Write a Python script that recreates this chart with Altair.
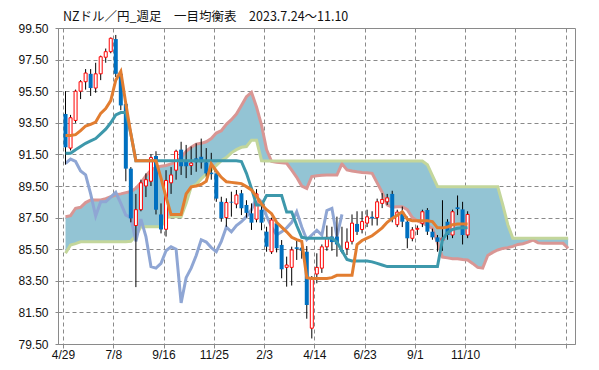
import altair as alt
import pandas as pd

TITLE = "NZドル／円_週足　一目均衡表　2023.7.24～11.10"
X_LABELS = ["4/29", "7/8", "9/16", "11/25", "2/3", "4/14", "6/23", "9/1", "11/10", "", ""]
Y_TICKS = [79.5 + 2 * k for k in range(11)]

# weekly candles (open, high, low, close), index 0..80
OPEN = [94.06, 91.9, 93.65, 95.5, 96.1, 96.6, 95.7, 96.6, 97.65, 98.0,
        98.8, 96.6, 94.7, 90.6, 87.0, 88.0, 89.5, 89.8, 91.4, 87.7,
        86.76, 89.7, 90.5, 91.8, 91.1, 90.8, 91.25, 91.35, 91.0, 90.35,
        90.3, 88.5, 87.5, 88.5, 88.36, 89.04, 88.3, 87.77, 87.4, 88.0,
        86.61, 85.34, 87.14, 85.77, 84.35, 84.35, 85.62, 85.6, 85.34, 80.5,
        83.93, 84.3, 85.65, 86.3, 86.3, 85.45, 85.55, 86.0, 87.1, 86.75,
        87.15, 87.55, 87.5, 88.4, 88.5, 89.0, 87.05, 87.87, 87.24, 86.19,
        86.76, 87.14, 87.98, 86.61, 86.25, 86.05, 87.24, 86.4, 88.15, 88.02,
        86.4]
HIGH = [95.5, 94.0, 95.6, 96.2, 96.9, 96.9, 97.3, 97.75, 98.2, 98.9,
        99.06, 96.7, 94.8, 90.7, 89.0, 89.9, 90.3, 91.5, 91.7, 88.4,
        90.5, 90.7, 91.8, 92.3, 92.1, 92.0, 92.2, 92.5, 91.9, 91.6,
        90.5, 88.82, 88.72, 89.14, 89.25, 89.25, 88.6, 88.4, 89.3, 88.3,
        86.92, 87.5, 87.3, 86.08, 85.03, 85.66, 86.08, 86.0, 85.7, 83.8,
        85.24, 85.8, 87.0, 86.92, 87.56, 86.92, 86.82, 87.7, 87.9, 87.9,
        88.0, 87.9, 88.7, 89.05, 89.0, 89.2, 88.0, 88.2, 87.56, 86.9,
        87.0, 88.0, 88.1, 86.8, 86.4, 88.6, 87.4, 88.0, 88.9, 88.5,
        87.9]
LOW = [90.85, 91.75, 93.5, 95.0, 95.6, 95.2, 95.4, 96.2, 97.3, 97.9,
       96.4, 94.3, 89.8, 87.2, 83.1, 87.9, 88.8, 89.5, 87.7, 86.5,
       86.3, 89.0, 89.9, 90.2, 90.0, 90.2, 90.4, 90.6, 90.1, 89.9,
       88.5, 87.24, 86.92, 87.56, 88.09, 87.66, 87.5, 86.72, 87.2, 86.7,
       85.34, 85.2, 85.3, 83.66, 83.13, 83.2, 84.82, 84.9, 81.1, 79.85,
       83.34, 84.0, 85.4, 85.4, 85.03, 85.24, 85.13, 85.8, 86.4, 86.5,
       86.9, 87.0, 87.0, 88.1, 88.3, 87.2, 86.9, 86.9, 85.56, 86.0,
       86.4, 86.9, 86.4, 86.1, 85.34, 85.4, 86.1, 86.2, 87.66, 85.8,
       86.2]
CLOSE = [91.95, 93.82, 95.5, 96.1, 96.65, 95.7, 96.6, 97.68, 98.0, 98.85,
         96.6, 94.6, 90.6, 87.45, 88.0, 89.7, 89.9, 91.3, 88.0, 86.75,
         89.85, 90.2, 91.7, 90.75, 90.75, 90.95, 91.0, 91.0, 90.3, 90.25,
         88.7, 87.46, 88.45, 88.45, 88.93, 88.09, 87.8, 87.18, 89.0, 87.18,
         85.66, 87.35, 85.56, 84.23, 84.5, 85.45, 85.52, 85.4, 81.97, 83.65,
         84.35, 85.65, 86.25, 85.95, 85.8, 85.35, 85.95, 87.15, 86.6, 87.25,
         87.55, 87.45, 88.5, 88.65, 88.75, 87.4, 87.85, 87.24, 86.19, 86.72,
         86.82, 87.87, 86.61, 86.25, 85.97, 86.2, 86.4, 87.87, 88.04, 86.4,
         87.7]

TENKAN = [92.7, 92.7, 92.75, 93.0, 93.3, 93.4, 93.55, 94.1, 94.4, 94.9,
          96.2, 96.75, 94.7, 92.8, 91.1, 91.1, 91.1, 91.1, 91.1, 90.0,
          88.8, 87.7, 87.7, 87.7, 89.0, 89.45, 89.5, 89.6, 89.8, 90.9,
          90.45, 90.05, 89.77, 89.73, 89.69, 89.65, 89.46, 89.25, 88.85, 88.35,
          88.0, 87.75, 87.2, 86.9, 86.6, 86.25, 86.1, 86.0, 83.7, 83.65,
          83.65, 83.65, 83.65, 83.7, 83.85, 83.85, 83.85, 83.85, 85.8, 86.05,
          86.2, 86.35, 86.6, 86.85, 87.2, 87.45, 87.65, 87.87, 87.4, 87.3,
          87.3, 87.3, 87.3, 87.25, 86.85, 86.85, 86.9, 87.05, 87.1, 87.1,
          87.1]
KIJUN = [91.57, 91.57, 91.8, 92.0, 92.2, 92.35, 92.5, 92.8, 93.1, 93.5,
         94.0, 94.15, 94.15, 92.8, 91.1, 91.1, 91.1, 91.1, 91.1, 91.1,
         91.1, 91.1, 91.1, 91.1, 91.1, 91.1, 91.1, 91.1, 91.1, 91.1,
         91.1, 91.1, 91.1, 91.1, 91.1, 91.05, 90.3, 89.35, 88.3, 88.3,
         88.9, 88.9, 88.9, 88.9, 87.85, 87.85, 87.0, 86.25, 86.2, 86.2,
         86.2, 86.2, 86.2, 86.19, 85.95, 85.4, 84.85, 84.75, 84.75, 84.75,
         84.75, 84.7, 84.6, 84.5, 84.4, 84.4, 84.4, 84.4, 84.4, 84.4,
         84.4, 84.4, 84.4, 84.4, 84.4, 86.1, 86.55, 86.75, 86.82, 86.85,
         86.86]
CHIKOU = [90.93, 91.2, 91.05, 90.45, 90.2, 89.0, 87.6, 88.5, 88.5, 88.8,
          89.1, 88.4, 87.66, 87.5, 86.0, 87.4, 86.3, 84.4, 84.3, 84.6,
          85.4, 85.66, 85.5, 82.1, 83.7, 84.3, 85.1, 86.1, 85.95, 85.6,
          85.35, 86.0, 86.9, 86.6, 87.0, 87.24, 87.56, 88.0, 88.8, 88.5,
          87.6, 86.9, 86.4, 86.6, 86.85, 87.2, 87.87, 86.9, 86.1, 86.4,
          86.7, 86.4, 87.95, 88.09, 86.3, 87.7]
SPAN_A = [87.56, 87.62, 88.09, 88.15, 88.45, 88.62, 88.62, 88.62, 88.70, 88.82,
          88.93, 89.00, 89.08, 89.15, 89.35, 89.70, 90.15, 90.50, 90.68, 90.75,
          90.80, 90.90, 91.00, 91.30, 91.70, 91.95, 92.15, 92.20, 92.30, 92.50,
          92.85, 93.00, 93.40, 93.70, 94.05, 94.60, 95.15, 95.43, 94.50, 93.35,
          91.80, 91.05, 91.00, 90.97, 90.94, 90.50, 90.05, 89.50, 89.35, 90.10,
          90.15, 90.18, 90.20, 90.20, 90.20, 90.90, 90.52, 90.45, 90.40, 90.36,
          90.34, 90.30, 89.70, 89.10, 88.30, 88.15, 88.19, 88.19, 88.00, 87.50,
          87.30, 87.15, 87.00, 86.82, 85.90, 85.00, 84.95, 84.90, 84.90, 84.85,
          84.82, 84.60, 84.35, 84.30, 85.10, 85.30, 85.45, 85.55, 85.60, 85.68,
          85.80, 85.85, 85.95, 86.08, 85.90, 85.87, 85.87, 85.87, 85.87, 85.87,
          85.56]
SPAN_B = [85.24, 85.77, 85.85, 85.97, 85.97, 85.97, 85.97, 85.97, 85.97, 85.97,
          85.97, 85.97, 85.97, 86.0, 86.35, 86.92, 86.92, 86.92, 86.92, 86.92,
          87.50, 87.56, 87.56, 87.56, 88.40, 89.45, 89.60, 89.95, 90.25, 90.50,
          90.80, 91.10, 91.30, 91.60, 91.80, 91.95, 92.00, 92.40, 92.40, 91.10,
          91.08, 91.08, 91.08, 91.08, 91.08, 91.08, 91.08, 91.08, 91.08, 91.08,
          91.08, 91.08, 91.08, 91.08, 91.08, 91.08, 91.08, 91.08, 91.08, 91.08,
          91.08, 91.08, 91.08, 91.08, 91.08, 91.08, 91.08, 91.08, 91.08, 91.08,
          91.08, 91.08, 90.85, 90.15, 89.47, 89.46, 89.46, 89.46, 89.46, 89.46,
          89.46, 89.46, 89.46, 89.46, 89.46, 89.46, 89.46, 88.30, 87.05, 86.19,
          86.19, 86.19, 86.19, 86.19, 86.19, 86.19, 86.19, 86.19, 86.19, 86.19,
          86.19]

candles = pd.DataFrame({"i": list(range(len(OPEN))), "open": OPEN, "high": HIGH,
                        "low": LOW, "close": CLOSE})
candles["up"] = candles["close"] >= candles["open"]
lines = pd.DataFrame({"i": list(range(len(TENKAN))), "tenkan": TENKAN, "kijun": KIJUN})
chikou = pd.DataFrame({"i": list(range(len(CHIKOU))), "v": CHIKOU})
cloud = pd.DataFrame({"i": list(range(len(SPAN_A))), "a": SPAN_A, "b": SPAN_B})

GRID = "#8a8a8a"
xs = alt.Scale(domain=[-0.5, 100.37], nice=False, zero=False)
ys = alt.Scale(domain=[79.5, 99.5], nice=False, zero=False)

label_expr = "[" + ",".join("'%s'" % s for s in X_LABELS) + "][round((datum.value + 0.5) / 10)]"
x_axis = alt.Axis(values=[-0.5 + 10 * k for k in range(11)], labelExpr=label_expr,
                  grid=True, gridDash=[4, 3], gridColor=GRID, gridWidth=1,
                  tickSize=4, tickColor=GRID, domainColor=GRID, labelFont="Liberation Sans",
                  labelFontSize=12, labelColor="#111", labelPadding=1, title=None,
                  labelOverlap=False, labelFlush=False, labelBound=False)
y_axis = alt.Axis(values=Y_TICKS, format=".2f", grid=True, gridDash=[4, 3], gridColor=GRID,
                  gridWidth=1, tickSize=3, tickColor=GRID, domainColor=GRID,
                  labelFont="Liberation Sans", labelFontSize=12, labelColor="#111",
                  labelPadding=7, title=None, labelOverlap=False, labelFlush=False)


def X():
    return alt.X("i:Q", scale=xs, axis=x_axis)


def Y(field):
    return alt.Y(field, scale=ys, axis=y_axis)


area = alt.Chart(cloud).mark_area(color="#93c4d4", opacity=1).encode(
    x=X(), y=Y("a:Q"), y2="b:Q")
line_a = alt.Chart(cloud).mark_line(color="#d99694", strokeWidth=3).encode(
    x=X(), y=Y("a:Q"))
line_b = alt.Chart(cloud).mark_line(color="#c3d69b", strokeWidth=3).encode(
    x=X(), y=Y("b:Q"))
lag = alt.Chart(chikou).mark_line(color="#8fa6d4", strokeWidth=3).encode(
    x=X(), y=Y("v:Q"))
wick = alt.Chart(candles).mark_rule(color="#000000", strokeWidth=1).encode(
    x=X(), y=Y("low:Q"), y2="high:Q")
body_up = alt.Chart(candles).transform_filter("datum.up").mark_bar(
    size=3, fill="#ffffff", stroke="#ff0000", strokeWidth=1).encode(
    x=X(), y=Y("open:Q"), y2="close:Q")
body_dn = alt.Chart(candles).transform_filter("!datum.up").mark_bar(
    size=4, color="#0070c0").encode(
    x=X(), y=Y("open:Q"), y2="close:Q")
kijun = alt.Chart(lines).mark_line(color="#3d98ab", strokeWidth=3).encode(
    x=X(), y=Y("kijun:Q"))
tenkan = alt.Chart(lines).mark_line(color="#e27d30", strokeWidth=3).encode(
    x=X(), y=Y("tenkan:Q"))

title = alt.Chart(pd.DataFrame({"t": [TITLE]})).mark_text(
    align="left", baseline="middle", font="Noto Sans CJK JP", fontSize=12.5,
    color="#111").encode(x=alt.value(5), y=alt.value(-11), text="t:N")

chart = alt.layer(area, line_a, line_b, lag, wick, body_up, body_dn, kijun, tenkan,
                  title).properties(
    width=517, height=316, autosize="none",
    padding={"left": 50, "top": 20, "right": 16, "bottom": 18},
    background="#ffffff"
).configure_view(stroke=GRID, strokeWidth=1)

chart.save("out.html", embed_options={"renderer": "svg", "actions": False})
